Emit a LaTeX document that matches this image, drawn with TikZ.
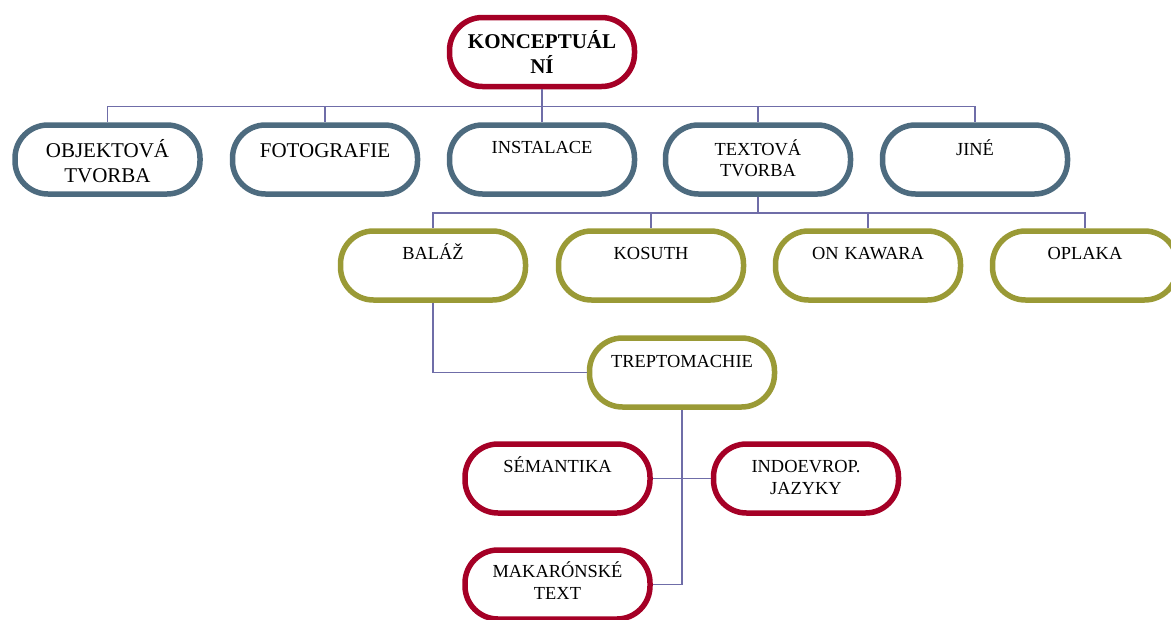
\documentclass[tikz,border=0pt]{standalone}
\usepackage{fontspec}
\setmainfont{Liberation Serif}
\usetikzlibrary{positioning}
\definecolor{redcol}{HTML}{A50026}
\definecolor{bluecol}{HTML}{4D6B7F}
\definecolor{olivecol}{HTML}{9A9A36}
\definecolor{linecol}{HTML}{6F6DA8}
\newcommand\smallfnt{\fontsize{18.4}{22}\selectfont}
\newcommand\bigfnt{\fontsize{21}{25}\selectfont}

\begin{document}
\begin{tikzpicture}[x=1pt, y=-1pt,
  pill/.style={draw, line width=5.5pt, rounded corners=33pt, fill=white,
    text width=180pt, align=center, inner xsep=2.5pt, inner ysep=0pt,
    text height=28.5pt, text depth=40.5pt, font=\smallfnt},
  topbox/.style={pill, draw=redcol, font=\bigfnt\bfseries, text height=30.5pt, text depth=38.5pt},
  catbox/.style={pill, draw=bluecol},
  namebox/.style={pill, draw=olivecol},
  termbox/.style={pill, draw=redcol},
  conn/.style={draw=linecol, line width=1.5pt}]
\useasboundingbox (0,0) rectangle (1171,619);
\clip (0,0) rectangle (1171,619);
\node[topbox] (konc) at (542,52) {KONCEPTUÁL\\NÍ};
\node[catbox, font=\bigfnt, text height=32.5pt, text depth=36.5pt] (obj) at (107.5,159.5) {OBJEKTOVÁ\\TVORBA};
\node[catbox, font=\bigfnt, text height=32.5pt, text depth=36.5pt] (foto) at (325,159.5) {FOTOGRAFIE};
\node[catbox] (inst) at (542,159.5) {INSTALACE};
\node[catbox, font=\fontsize{18.4}{20.5}\selectfont, text height=30.5pt, text depth=38.5pt] (text) at (758,159.5) {TEXTOVÁ\\TVORBA};
\node[catbox, text height=30pt, text depth=39pt] (jine) at (975,159.5) {JINÉ};
\node[namebox] (balaz) at (433,265.5) {BALÁŽ};
\node[namebox] (kosuth) at (651,265.5) {KOSUTH};
\node[namebox] (kawara) at (868,265.5) {ON KAWARA};
\node[namebox] (oplaka) at (1085,265.5) {OPLAKA};
\node[namebox, text height=29.5pt, text depth=39.5pt] (trept) at (682,372.5) {TREPTOMACHIE};
\node[termbox] (sem) at (557.5,478.5) {SÉMANTIKA};
\node[termbox] (indo) at (806,478.5) {INDOEVROP.\\JAZYKY};
\node[termbox, text height=27.5pt, text depth=41.5pt] (makar) at (557.5,584.5) {MAKARÓNSKÉ\\TEXT};
% connectors
\foreach \n in {obj,foto,inst,text,jine}
  \draw[conn] (konc.south) -- ++(0,17) -| (\n.north);
\foreach \n in {balaz,kosuth,kawara,oplaka}
  \draw[conn] (text.south) -- ++(0,16) -| (\n.north);
\draw[conn] (balaz.south) |- (trept.west);
\draw[conn] (trept.south) |- (makar.east);
\draw[conn] (sem.east) -- (indo.west);
\end{tikzpicture}
\end{document}
